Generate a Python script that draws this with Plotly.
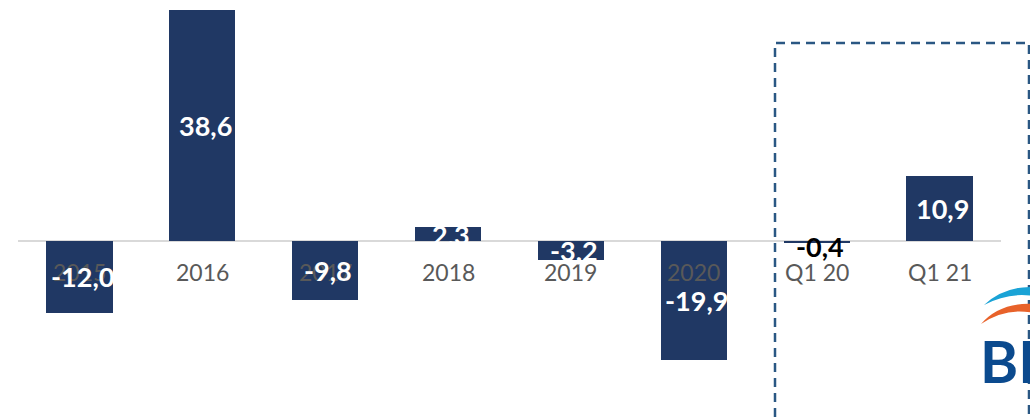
import plotly.graph_objects as go

categories = ["2015", "2016", "2017", "2018", "2019", "2020", "Q1 20", "Q1 21"]
values = [-12.0, 38.6, -9.8, 2.3, -3.2, -19.9, -0.4, 10.9]
value_labels = ["-12,0", "38,6", "-9,8", "2,3", "-3,2", "-19,9", "-0,4", "10,9"]
label_colors = ["white", "white", "white", "white", "white", "white", "black", "white"]

W, H = 1030, 418
ML, MR, MT, MB = 18, 29, 0, 0
PW, PH = W - ML - MR, H - MT - MB

def xp(px):
    return (px - ML) / PW

def yp(py):
    return (H - MB - py) / PH

fig = go.Figure()
fig.add_trace(go.Bar(
    x=list(range(len(categories))), y=values,
    marker=dict(color="#203864", line=dict(width=0)),
    width=0.54, hoverinfo="skip",
))

annotations = []
for i, c in enumerate(categories):
    annotations.append(dict(
        x=i, y=0, xref="x", yref="y", text=c, showarrow=False,
        yanchor="middle", yshift=-31,
        font=dict(family="Lato", size=23, color="#595959"),
    ))
for i, (v, t, col) in enumerate(zip(values, value_labels, label_colors)):
    annotations.append(dict(
        x=i, y=v / 2, xref="x", yref="y", text="<b>" + t + "</b>", showarrow=False,
        yanchor="middle", xshift=3, yshift=(-4 if col == "black" else 0),
        font=dict(family="Lato", size=27, color=col),
    ))
# logo text
annotations.append(dict(
    x=xp(979), y=yp(360), xref="paper", yref="paper", text="<b>BI</b>",
    showarrow=False, xanchor="left", yanchor="middle", borderpad=0,
    font=dict(family="Lato", size=58, color="#0b4a8e"),
))

blue_path = (f"M {xp(984)},{yp(305)} Q {xp(1004)},{yp(286)} {xp(1034)},{yp(287)} "
             f"L {xp(1034)},{yp(296)} Q {xp(1008)},{yp(292)} {xp(984)},{yp(305)} Z")
orange_path = (f"M {xp(981)},{yp(324)} Q {xp(1000)},{yp(302)} {xp(1034)},{yp(304)} "
               f"L {xp(1034)},{yp(313)} Q {xp(1006)},{yp(307)} {xp(981)},{yp(324)} Z")

shapes = [
    dict(type="rect", xref="paper", yref="paper",
         x0=xp(775), x1=xp(1029), y0=yp(430), y1=yp(43),
         line=dict(color="#2a5783", width=2.5, dash="9px,6px")),
    dict(type="path", xref="paper", yref="paper", path=blue_path,
         fillcolor="#1aa3d6", line=dict(width=0)),
    dict(type="path", xref="paper", yref="paper", path=orange_path,
         fillcolor="#e8622a", line=dict(width=0)),
]

fig.update_layout(
    width=W, height=H,
    margin=dict(l=ML, r=MR, t=MT, b=MB, pad=0),
    paper_bgcolor="white", plot_bgcolor="white",
    showlegend=False,
    xaxis=dict(range=[-0.5, len(categories) - 0.5], showgrid=False, zeroline=False,
               showticklabels=False, ticks="", fixedrange=True),
    yaxis=dict(range=[-29.58, 40.27], showgrid=False, zeroline=True,
               zerolinecolor="#d9d9d9", zerolinewidth=2,
               showticklabels=False, ticks="", fixedrange=True),
    annotations=annotations,
    shapes=shapes,
    bargap=0,
)

fig.write_html("out.html", config={"displayModeBar": False},
               post_script="document.body.style.margin='0';document.body.style.overflow='hidden';")
